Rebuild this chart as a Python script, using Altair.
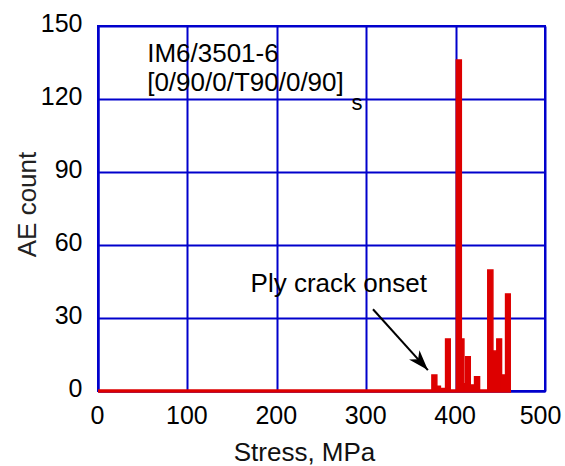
import altair as alt
import pandas as pd

# Histogram-like AE counts
bar_start = [373.5, 379.0, 383.0, 388.8, 400.8, 406.4, 409.3, 411.2, 416.4, 421.2, 436.0, 441.7, 446.1, 451.4, 455.9]
bar_end = [379.0, 383.0, 388.8, 394.0, 406.4, 409.3, 411.2, 416.4, 421.2, 426.8, 441.7, 446.1, 451.4, 455.9, 461.1]
ae_count = [6.6, 2, 1, 21.4, 136, 21.4, 3, 14.1, 2.5, 5.9, 49.7, 16.4, 21.4, 6.6, 39.9]

baseline_x = [0, 462]
x_ticks = [0, 100, 200, 300, 400, 500]
y_ticks = [0, 30, 60, 90, 120, 150]

labels_text = ["IM6/3501-6", "[0/90/0/T90/0/90]", "s", "Ply crack onset"]
labels_x = [55, 55, 283.5, 269.3]
labels_y = [135.3, 123.3, 115.5, 40.6]
labels_align = ["left", "left", "left", "center"]

arrow_x = [307.6, 369.0]
arrow_y = [33.6, 8.6]

RED = "#dd0000"
BLUE = "#0000cc"
FONT = "Liberation Sans"

bars_df = pd.DataFrame({"start": bar_start, "end": bar_end, "count": ae_count})
base_df = pd.DataFrame({"x": [baseline_x[0]], "x2": [baseline_x[1]], "y": [0]})
arrow_df = pd.DataFrame({"x": [arrow_x[0]], "y": [arrow_y[0]], "x2": [arrow_x[1]], "y2": [arrow_y[1]]})
tip_df = pd.DataFrame({"x": [arrow_x[1]], "y": [arrow_y[1]]})

xscale = alt.Scale(domain=[0, 500], nice=False, zero=True)
yscale = alt.Scale(domain=[0, 150], nice=False, zero=True)

xaxis = alt.Axis(
    values=x_ticks, title="Stress, MPa", grid=True, gridColor=BLUE, gridWidth=2,
    domainColor=BLUE, domainWidth=2, tickSize=0, labelFont=FONT, labelFontSize=25,
    labelColor="#000000", labelPadding=12, labelFlush=False,
    labelOffset={"condition": {"test": "datum.value === 500", "value": -5}, "value": -1},
    titleFont=FONT, titleFontSize=26, titleFontWeight="normal", titleColor="#111111",
    titleX=206, titleY=69, titleBaseline="alphabetic", titleAlign="center",
)
yaxis = alt.Axis(
    values=y_ticks, title="AE count", grid=True, gridColor=BLUE, gridWidth=2,
    domainColor=BLUE, domainWidth=2, tickSize=0, labelFont=FONT, labelFontSize=25,
    labelColor="#000000", labelPadding=16, labelOffset=-3, labelFlush=False,
    titleFont=FONT, titleFontSize=26, titleFontWeight="normal", titleColor="#222222",
    titleX=-63, titleY=178, titleBaseline="alphabetic", titleAlign="center", titleAngle=270,
)

baseline = alt.Chart(base_df).mark_rule(color=RED, strokeWidth=3.5).encode(
    x=alt.X("x:Q", scale=xscale, axis=xaxis),
    x2="x2:Q",
    y=alt.Y("y:Q", scale=yscale, axis=yaxis),
)

bars = alt.Chart(bars_df).mark_rect(color=RED, stroke=RED, strokeWidth=1.5).encode(
    x=alt.X("start:Q", scale=xscale),
    x2="end:Q",
    y=alt.Y("count:Q", scale=yscale),
    y2=alt.datum(0),
)

text_layers = []
for t, tx, ty, al in zip(labels_text, labels_x, labels_y, labels_align):
    tdf = pd.DataFrame({"x": [tx], "y": [ty], "t": [t]})
    text_layers.append(
        alt.Chart(tdf).mark_text(
            align=al, baseline="alphabetic", font=FONT,
            fontSize=(22 if t == "s" else 26), color="#000000",
        ).encode(x=alt.X("x:Q", scale=xscale), y=alt.Y("y:Q", scale=yscale), text="t:N")
    )

arrow_line = alt.Chart(arrow_df).mark_rule(color="#000000", strokeWidth=2).encode(
    x=alt.X("x:Q", scale=xscale), y=alt.Y("y:Q", scale=yscale), x2="x2:Q", y2="y2:Q",
)

arrow_tip = alt.Chart(tip_df).mark_point(
    shape="M0,0 L-0.55,1.6 L0,1.15 L0.55,1.6 Z", size=650, filled=True,
    color="#000000", opacity=1, angle=138, strokeWidth=0,
).encode(x=alt.X("x:Q", scale=xscale), y=alt.Y("y:Q", scale=yscale))

chart = alt.layer(baseline, bars, *text_layers, arrow_line, arrow_tip).properties(
    width=447, height=365,
    autosize=alt.AutoSizeParams(type="none"),
    padding={"left": 98, "top": 26, "right": 20, "bottom": 75},
    background="#ffffff",
).configure_view(stroke=BLUE, strokeWidth=2)

chart.save("out.html", embed_options={"renderer": "svg", "actions": False})
